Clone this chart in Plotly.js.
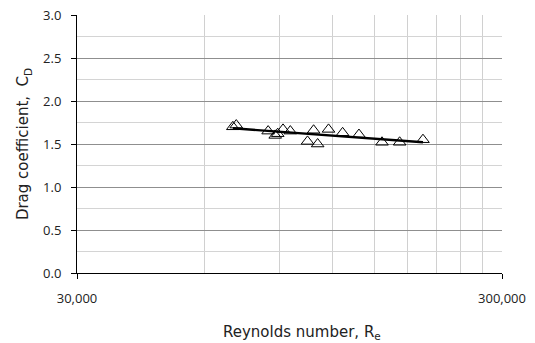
<!DOCTYPE html>
<html>
<head>
<meta charset="utf-8">
<script src="https://cdn.plot.ly/plotly-3.0.1.min.js"></script>
<style>html,body{margin:0;padding:0;background:#fff;}#chart{width:535px;height:343px;}</style>
</head>
<body>
<div id="chart"></div>
<script>
// Reynolds number of each measurement
const reynolds = [69800, 71100, 84500, 87800, 89000, 91600, 95300, 104600, 108100, 110500, 117200, 126500, 138200, 156600, 172300, 195500];
// Measured drag coefficient
const dragCoeff = [1.70, 1.72, 1.65, 1.60, 1.62, 1.67, 1.65, 1.53, 1.66, 1.50, 1.67, 1.63, 1.61, 1.52, 1.52, 1.55];
// Axis tick labels
const xTickVals = [30000, 300000];
const xTickText = ["30,000", "300,000"];
const xMinorGrid = [60000, 90000, 120000, 150000, 180000, 210000, 240000, 270000];

// Power-law trend line fitted (least squares in log-log space) to the data
const lx = reynolds.map(v => Math.log(v));
const ly = dragCoeff.map(v => Math.log(v));
const n = lx.length;
const mx = lx.reduce((a, b) => a + b, 0) / n;
const my = ly.reduce((a, b) => a + b, 0) / n;
let sxy = 0, sxx = 0;
for (let i = 0; i < n; i++) { sxy += (lx[i] - mx) * (ly[i] - my); sxx += (lx[i] - mx) ** 2; }
const b = sxy / sxx;
const a = Math.exp(my - b * mx);
const xMin = Math.min(...reynolds), xMax = Math.max(...reynolds);
const fitX = [], fitY = [];
for (let k = 0; k <= 40; k++) {
  const x = Math.exp(Math.log(xMin) + (Math.log(xMax) - Math.log(xMin)) * k / 40);
  fitX.push(x); fitY.push(a * Math.pow(x, b));
}

const traces = [
  {x: fitX, y: fitY, mode: 'lines', line: {color: '#000', width: 2.4}, hoverinfo: 'skip', showlegend: false},
  {x: reynolds, y: dragCoeff, mode: 'markers', marker: {symbol: 'triangle-up-open', size: 11, color: '#000', line: {width: 1, color: '#000'}}, showlegend: false}
];

const tickFont = {family: 'Open Sans, sans-serif', size: 13, color: '#222'};
const layout = {
  width: 535, height: 343,
  margin: {l: 76.7, r: 33.3, t: 14.7, b: 69.7},
  paper_bgcolor: '#fff', plot_bgcolor: '#fff',
  showlegend: false,
  xaxis: {
    type: 'log', range: [Math.log10(30000), Math.log10(300000)],
    tickmode: 'array', tickvals: xTickVals, ticktext: xTickText,
    ticks: 'outside', ticklen: 5, tickcolor: '#000', tickwidth: 1,
    ticklabelstandoff: 8,
    showgrid: true, gridcolor: '#c8c8c8', gridwidth: 1,
    minor: {tickmode: 'array', tickvals: xMinorGrid, showgrid: true, gridcolor: '#d0d0d0', gridwidth: 1, ticks: ''},
    showline: true, linecolor: '#000', linewidth: 1,
    zeroline: false, tickfont: tickFont
  },
  yaxis: {
    range: [0, 3], tickmode: 'linear', tick0: 0, dtick: 0.5,
    tickformat: '.1f',
    ticks: 'outside', ticklen: 5, tickcolor: '#000', tickwidth: 1,
    ticklabelstandoff: 7,
    showgrid: true, gridcolor: '#8f8f8f', gridwidth: 1,
    minor: {dtick: 0.25, showgrid: true, gridcolor: '#d4d4d4', gridwidth: 1, ticks: ''},
    showline: true, linecolor: '#000', linewidth: 1,
    zeroline: false, tickfont: tickFont,
    title: {text: 'Drag coefficient,  C<sub>D</sub>', font: {family: 'DejaVu Sans, sans-serif', size: 15, color: '#222'}, standoff: 10}
  },
  annotations: [{
    text: 'Reynolds number, R<sub>e</sub>', xref: 'paper', yref: 'paper',
    x: 0.53, y: -0.185, xanchor: 'center', yanchor: 'top', showarrow: false,
    font: {family: 'DejaVu Sans, sans-serif', size: 15, color: '#222'}
  }]
};

Plotly.newPlot('chart', traces, layout, {displayModeBar: false, staticPlot: true});
</script>
</body>
</html>
